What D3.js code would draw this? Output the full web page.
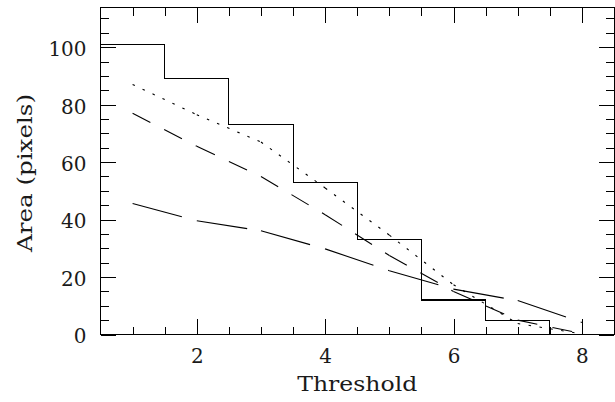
<!DOCTYPE html>
<html>
<head>
<meta charset="utf-8">
<script src="https://cdn.jsdelivr.net/npm/d3@7"></script>
<style>
  body { margin: 0; background: #fff; }
  svg { display: block; }
  text { font-family: "DejaVu Serif", serif; fill: #1a1a1a; }
</style>
</head>
<body>
<div id="chart"></div>
<script>
// valores
var thresholds = [1, 2, 3, 4, 5, 6, 7, 8];
var areaHist = [101, 89, 73, 53, 33, 12, 5, 0];
var areaDotted = [87, 76.5, 67, 51, 34.6, 17.3, 3.8, 0.2];
var areaDashed = [77, 65.5, 55, 41.7, 27.5, 15, 5, 0.3];
var areaLongDash = [45.6, 39.6, 36.1, 29.8, 22.2, 15.8, 11.8, 4.2];

var xMajor = [2, 4, 6, 8];
var yMajor = [0, 20, 40, 60, 80, 100];
var xLabel = "Threshold";
var yLabel = "Area (pixels)";

const width = 615;
const height = 402;
const margin = { top: 7.5, right: 1, bottom: 67.5, left: 100.5 };
const fontSize = 19.5;

const svg = d3.select("#chart").append("svg")
  .attr("width", width)
  .attr("height", height);

const x = d3.scaleLinear().domain([0.5, 8.5]).range([margin.left, width - margin.right]);
const y = d3.scaleLinear().domain([0, 113.8]).range([height - margin.bottom, margin.top]);

// ticks menores
const xMinor = d3.range(1, 8.5, 0.5).filter(v => xMajor.indexOf(v) < 0);
const yMinor = d3.range(5, 113, 5).filter(v => yMajor.indexOf(v) < 0);

function styleAxis(g) {
  g.select(".domain").remove();
  g.selectAll("line").attr("stroke", "#000").attr("shape-rendering", "crispEdges");
  g.selectAll("text")
    .attr("font-family", "DejaVu Serif, serif")
    .attr("font-size", fontSize)
    .attr("fill", "#1a1a1a")
    .attr("textLength", function () { return this.textContent.length * 12.7; })
    .attr("lengthAdjust", "spacingAndGlyphs");
}

// eixo de baixo
svg.append("g").attr("transform", `translate(0,${y(0)})`)
  .call(d3.axisBottom(x).tickValues(xMajor).tickSize(-15.5).tickSizeOuter(0).tickPadding(14.5).tickFormat(d3.format("d")))
  .call(styleAxis);
svg.append("g").attr("transform", `translate(0,${y(0)})`)
  .call(d3.axisBottom(x).tickValues(xMinor).tickSize(-8).tickSizeOuter(0).tickFormat(""))
  .call(styleAxis);

// eixo de cima
svg.append("g").attr("transform", `translate(0,${margin.top})`)
  .call(d3.axisTop(x).tickValues(xMajor).tickSize(-15.5).tickSizeOuter(0).tickFormat(""))
  .call(styleAxis);
svg.append("g").attr("transform", `translate(0,${margin.top})`)
  .call(d3.axisTop(x).tickValues(xMinor).tickSize(-8).tickSizeOuter(0).tickFormat(""))
  .call(styleAxis);

// eixo esquerdo
svg.append("g").attr("transform", `translate(${margin.left},0)`)
  .call(d3.axisLeft(y).tickValues(yMajor).tickSize(-15.5).tickSizeOuter(0).tickPadding(14).tickFormat(d3.format("d")))
  .call(styleAxis)
  .call(g => g.selectAll("text").attr("dy", "0.43em"));
svg.append("g").attr("transform", `translate(${margin.left},0)`)
  .call(d3.axisLeft(y).tickValues(yMinor).tickSize(-8).tickSizeOuter(0).tickFormat(""))
  .call(styleAxis);

// eixo direito
svg.append("g").attr("transform", `translate(${width - margin.right},0)`)
  .call(d3.axisRight(y).tickValues(yMajor).tickSize(-15).tickSizeOuter(0).tickFormat(""))
  .call(styleAxis);
svg.append("g").attr("transform", `translate(${width - margin.right},0)`)
  .call(d3.axisRight(y).tickValues(yMinor).tickSize(-8).tickSizeOuter(0).tickFormat(""))
  .call(styleAxis);

// moldura
svg.append("rect")
  .attr("x", margin.left)
  .attr("y", margin.top)
  .attr("width", width - margin.right - margin.left)
  .attr("height", y(0) - margin.top)
  .attr("fill", "none")
  .attr("stroke", "#000")
  .attr("shape-rendering", "crispEdges");

// histograma em degraus
const histPts = thresholds.map((t, i) => [t - 0.5, areaHist[i]]);
histPts.push([thresholds[thresholds.length - 1] + 0.5, areaHist[areaHist.length - 1]]);
svg.append("path")
  .attr("d", d3.line().x(d => x(d[0])).y(d => y(d[1])).curve(d3.curveStepAfter)(histPts))
  .attr("fill", "none")
  .attr("stroke", "#000")
  .attr("stroke-width", 1.1)
  .attr("shape-rendering", "crispEdges");

// curvas tracejadas: o padrao recomeca a cada vertice
const seg = d3.line().x(d => x(d[0])).y(d => y(d[1]));
function drawSeries(values, dash) {
  const pts = thresholds.map((t, i) => [t, values[i]]);
  svg.append("g").selectAll("path")
    .data(d3.pairs(pts))
    .join("path")
    .attr("d", d => seg(d))
    .attr("fill", "none")
    .attr("stroke", "#000")
    .attr("stroke-width", 1.1)
    .attr("stroke-dasharray", dash);
}
drawSeries(areaDotted, "2.5 8.5");
drawSeries(areaDashed, "20 15.5");
drawSeries(areaLongDash, "51 15.5");

// titulos dos eixos
svg.append("text")
  .attr("x", (margin.left + width - margin.right) / 2)
  .attr("y", 391)
  .attr("text-anchor", "middle")
  .attr("font-size", fontSize)
  .attr("textLength", 120)
  .attr("lengthAdjust", "spacingAndGlyphs")
  .text(xLabel);

svg.append("text")
  .attr("transform", "translate(32,173) rotate(-90)")
  .attr("text-anchor", "middle")
  .attr("font-size", fontSize)
  .attr("textLength", 158)
  .attr("lengthAdjust", "spacingAndGlyphs")
  .text(yLabel);
</script>
</body>
</html>
